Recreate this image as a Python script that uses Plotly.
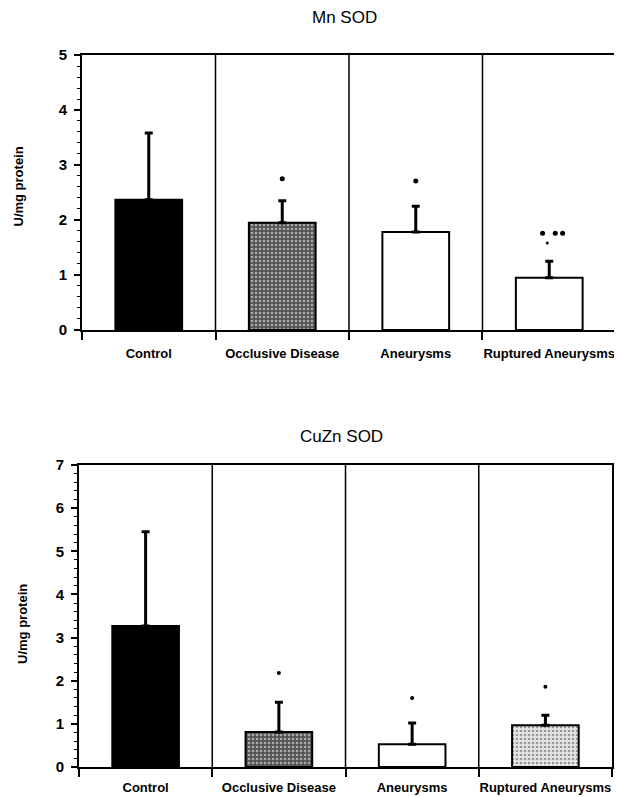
import plotly.graph_objects as go

categories = ["Control", "Occlusive Disease", "Aneurysms", "Ruptured Aneurysms"]
positions = [0, 1, 2, 3]

mn_values = [2.37, 1.95, 1.78, 0.95]
mn_err = [1.21, 0.40, 0.47, 0.30]
mn_sig_x = [1, 2, 2.95, 3.045, 3.10]
mn_sig_y = [2.75, 2.71, 1.76, 1.76, 1.76]
mn_sig_small_x = [2.985]
mn_sig_small_y = [1.58]

cuzn_values = [3.27, 0.81, 0.53, 0.97]
cuzn_err = [2.18, 0.69, 0.49, 0.23]
cuzn_sig_x = [1, 2, 3]
cuzn_sig_y = [2.18, 1.60, 1.86]

mn_colors = ["#000000", "#555555", "#ffffff", "#ffffff"]
cuzn_colors = ["#000000", "#555555", "#ffffff", "#e6e6e6"]
mn_pattern_fg = ["#000000", "#8a8a8a", "#ffffff", "#ffffff"]
cuzn_pattern_fg = ["#000000", "#8a8a8a", "#ffffff", "#c4c4c4"]
mn_shapes = ["", ".", "", ""]
cuzn_shapes = ["", ".", "", "."]

fig = go.Figure()

def add_panel(values, errs, colors, fgs, shapes_, xa, ya):
    fig.add_trace(go.Bar(
        x=positions, y=values, width=0.5, xaxis=xa, yaxis=ya,
        marker=dict(color=colors, line=dict(color="black", width=2),
                    pattern=dict(shape=shapes_, fgcolor=fgs, size=4, solidity=0.35)),
        error_y=dict(type="data", symmetric=False, array=errs,
                     arrayminus=[0] * len(errs), color="black", thickness=3, width=4),
        showlegend=False, hoverinfo="skip"))

add_panel(mn_values, mn_err, mn_colors, mn_pattern_fg, mn_shapes, "x", "y")
add_panel(cuzn_values, cuzn_err, cuzn_colors, cuzn_pattern_fg, cuzn_shapes, "x2", "y2")

fig.add_trace(go.Scatter(x=mn_sig_x, y=mn_sig_y, mode="markers", xaxis="x", yaxis="y",
                         marker=dict(color="black", size=5), showlegend=False, hoverinfo="skip"))
fig.add_trace(go.Scatter(x=mn_sig_small_x, y=mn_sig_small_y, mode="markers", xaxis="x", yaxis="y",
                         marker=dict(color="black", size=3), showlegend=False, hoverinfo="skip"))
fig.add_trace(go.Scatter(x=cuzn_sig_x, y=cuzn_sig_y, mode="markers", xaxis="x2", yaxis="y2",
                         marker=dict(color="black", size=4), showlegend=False, hoverinfo="skip"))

def xaxis_cfg(standoff):
    return dict(range=[-0.5, 3.5], tickvals=positions, ticktext=categories, ticks="",
                showgrid=False, zeroline=False, showline=True, linecolor="black", linewidth=2,
                mirror=True, fixedrange=True, ticklabelstandoff=standoff, automargin=False,
                tickfont=dict(family="Liberation Sans, Arial, sans-serif", size=13, color="black", weight="bold"),
                minor=dict(tickvals=[-0.5, 0.5, 1.5, 2.5, 3.5], ticks="outside", ticklen=8,
                           tickcolor="black", tickwidth=1.5))

ycommon = dict(showgrid=False, zeroline=False, showline=True, linecolor="black", linewidth=2,
               mirror=True, ticks="outside", ticklen=6, tickwidth=1.5, tickcolor="black", dtick=1,
               ticklabelstandoff=4, automargin=False,
               tickfont=dict(family="Liberation Sans, Arial, sans-serif", size=15, color="black", weight="bold"),
               minor=dict(dtick=0.2, ticks="outside", ticklen=3, tickcolor="black", tickwidth=1))

# page body adds an 8px offset; figure is sized so the plot lands in the same place
fig.update_layout(
    width=614, height=789,
    margin=dict(l=71, r=6, t=47, b=30),
    paper_bgcolor="white", plot_bgcolor="white",
    xaxis=dict(domain=[0.0056, 1.0], anchor="y", **xaxis_cfg(10)),
    yaxis=dict(domain=[0.6138, 1.0], anchor="x", range=[0, 5], **ycommon),
    xaxis2=dict(domain=[0.0, 0.9926], anchor="y2", **xaxis_cfg(7)),
    yaxis2=dict(domain=[0.0, 0.4242], anchor="x2", range=[0, 7], **ycommon),
)

shapes = []
for xr, yr in (("x", "y domain"), ("x2", "y2 domain")):
    for xv in (0.5, 1.5, 2.5):
        shapes.append(dict(type="line", xref=xr, yref=yr, x0=xv, x1=xv, y0=0, y1=1,
                           line=dict(color="black", width=1.5)))
fig.update_layout(shapes=shapes)

title_font = dict(family="Liberation Sans, Arial, sans-serif", size=17, color="black")
label_font = dict(family="Liberation Sans, Arial, sans-serif", size=13, color="black", weight="bold")
fig.add_annotation(text="Mn SOD", xref="paper", yref="paper", x=0.495, y=1.0, yshift=38,
                   showarrow=False, font=title_font, xanchor="center", yanchor="middle")
fig.add_annotation(text="CuZn SOD", xref="paper", yref="paper", x=0.488, y=0.4242, yshift=28,
                   showarrow=False, font=title_font, xanchor="center", yanchor="middle")
fig.add_annotation(text="U/mg protein", xref="paper", yref="paper", x=0, xshift=-61,
                   y=0.8069, yshift=6, textangle=-90, showarrow=False, font=label_font,
                   xanchor="center", yanchor="middle")
fig.add_annotation(text="U/mg protein", xref="paper", yref="paper", x=0, xshift=-56,
                   y=0.2121, yshift=-8, textangle=-90, showarrow=False, font=label_font,
                   xanchor="center", yanchor="middle")

fig.write_html("out.html")
